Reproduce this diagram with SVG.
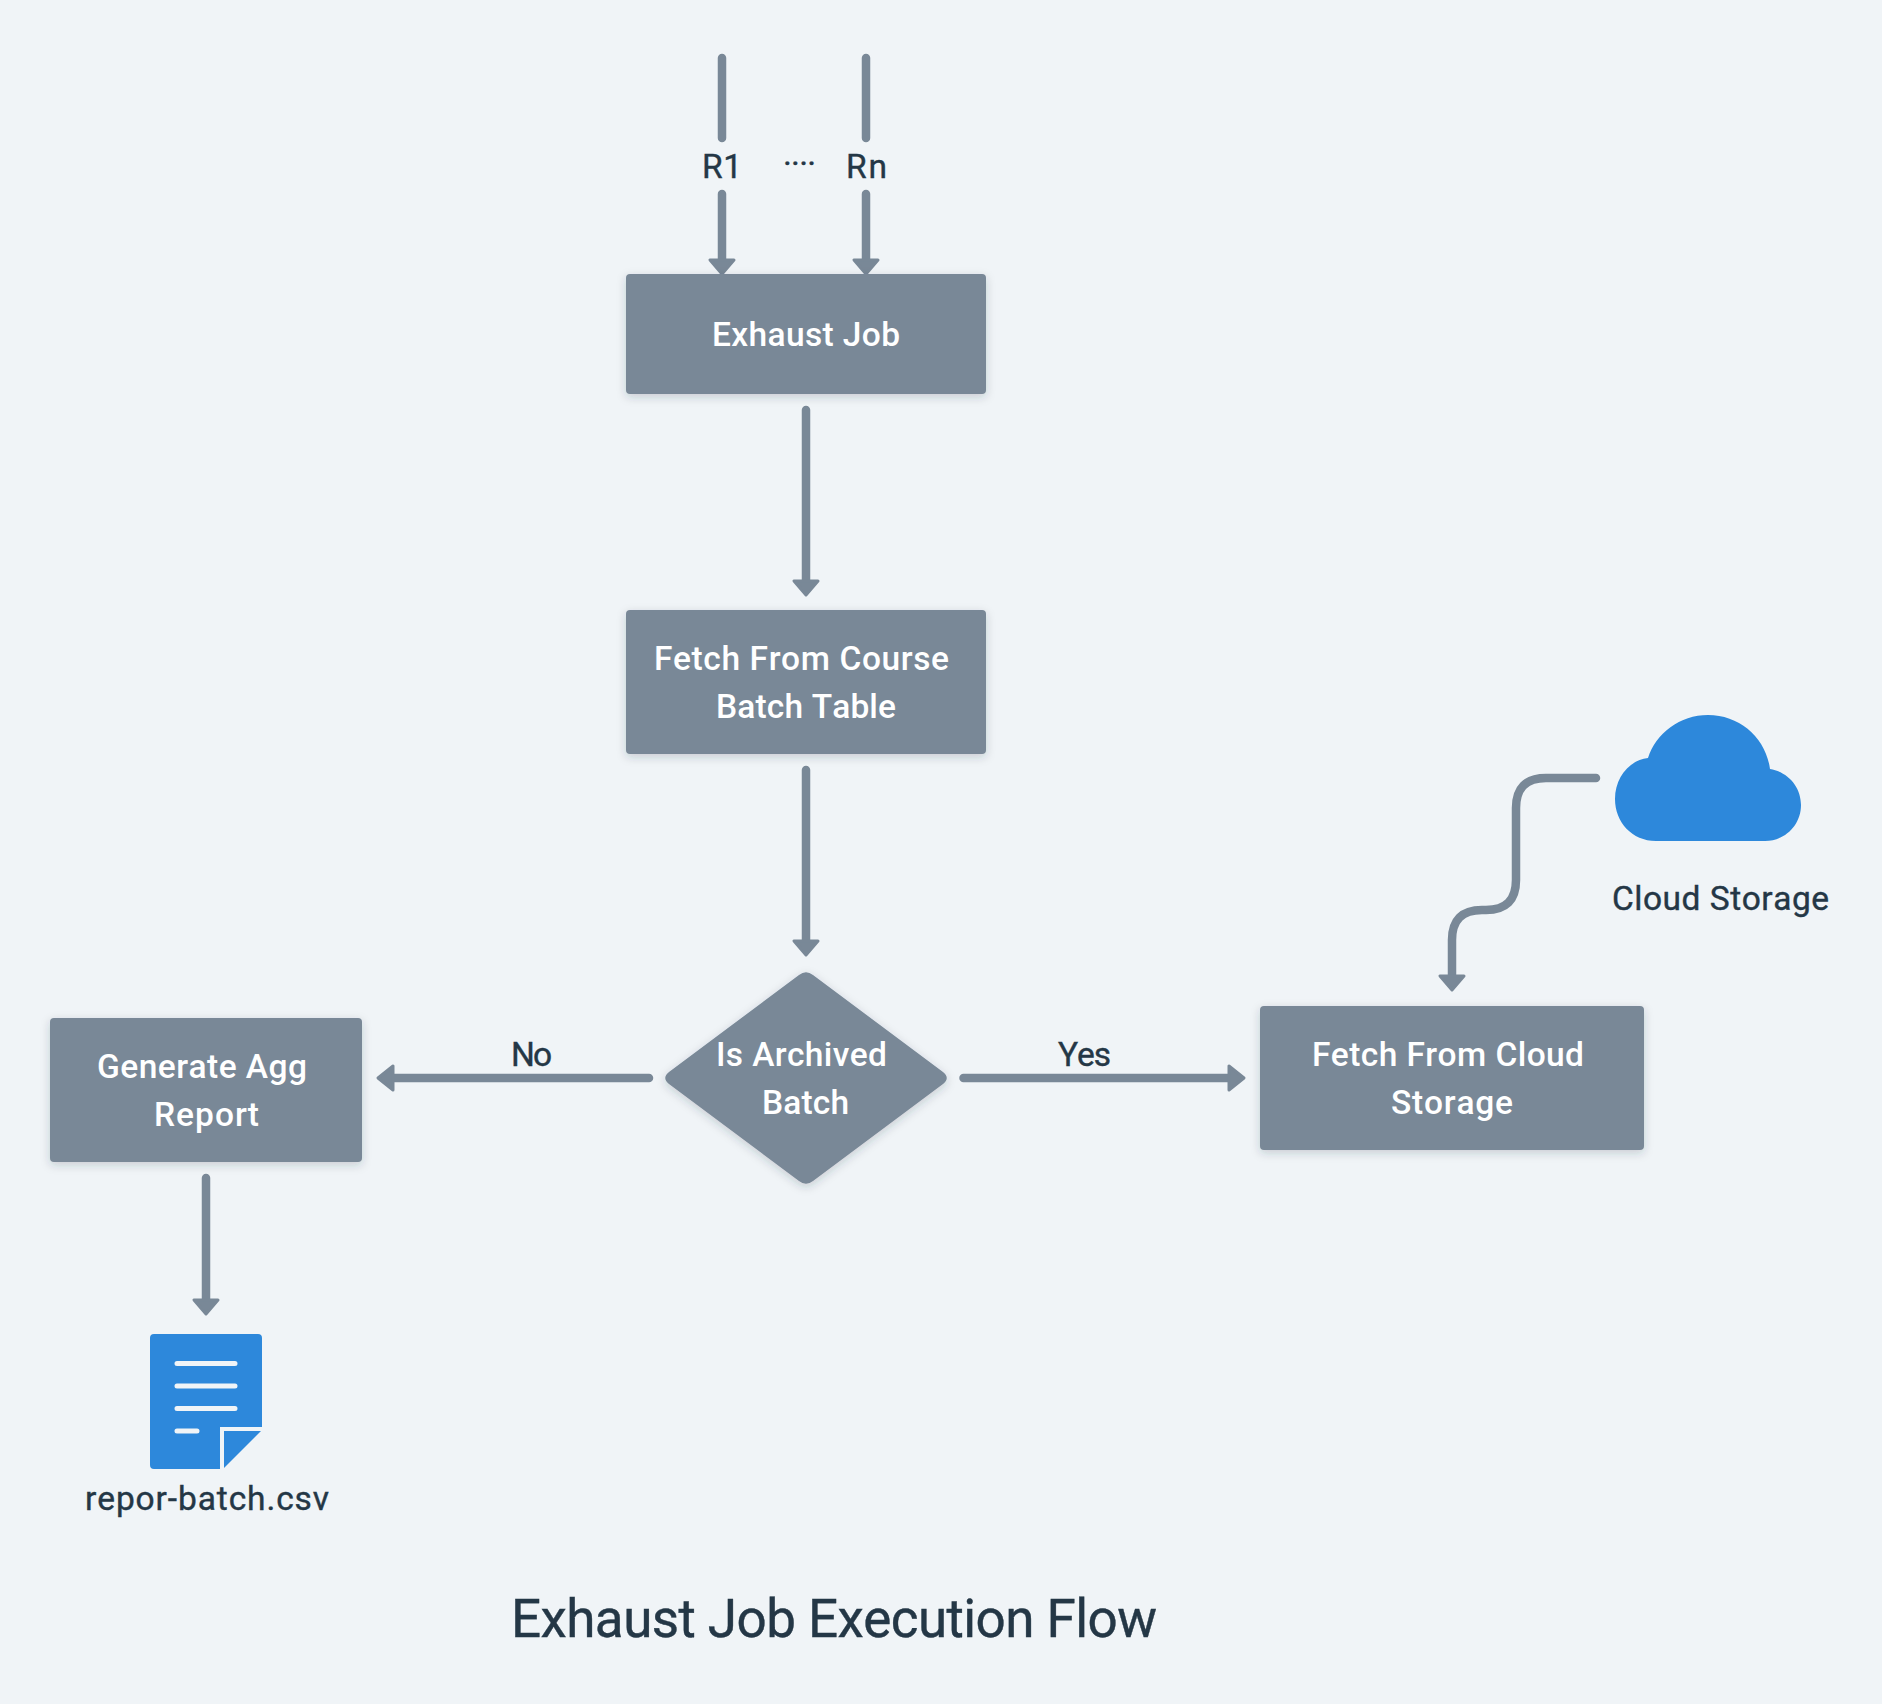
<svg xmlns="http://www.w3.org/2000/svg" width="1882" height="1704" viewBox="0 0 1882 1704">
<style>
text{font-family:"Roboto","Liberation Sans",sans-serif;font-size:33.5px;font-weight:400;fill:#243746;stroke:#243746;stroke-width:.4px;font-kerning:none}
.w{fill:#fff;stroke:none;font-weight:500}
.t{font-size:53px}
.box{fill:#798897;filter:url(#sh)}
.c{fill:none;stroke:#798897;stroke-width:8.5;stroke-linecap:round;stroke-linejoin:round}
.h{fill:#798897;stroke:#798897;stroke-width:3;stroke-linejoin:round}
.b{fill:#2d88db}
.l{stroke:#f0f4f7;stroke-width:5;stroke-linecap:round;fill:none}
</style>
<defs>
<filter id="sh" x="-10%" y="-15%" width="120%" height="135%"><feDropShadow dx="0" dy="3" stdDeviation="5" flood-color="#243746" flood-opacity="0.2"/></filter>
</defs>
<rect width="1882" height="1704" fill="#f0f4f7"/>
<g id="connectors">
<path class="c" d="M722 58V138"/>
<path class="c" d="M866 58V138"/>
<path class="c" d="M722 194V262"/>
<path class="h" d="M710 260H734L722 274Z"/>
<path class="c" d="M866 194V262"/>
<path class="h" d="M854 260H878L866 274Z"/>
<path class="c" d="M806 410V582"/>
<path class="h" d="M794 581H818L806 595Z"/>
<path class="c" d="M806 770V942"/>
<path class="h" d="M794 941H818L806 955Z"/>
<path class="c" d="M649 1078H392"/>
<path class="h" d="M393 1066V1090L378 1078Z"/>
<path class="c" d="M963.5 1078H1230"/>
<path class="h" d="M1229 1066V1090L1244 1078Z"/>
<path class="c" d="M206 1178V1302"/>
<path class="h" d="M194 1300H218L206 1314Z"/>
<path class="c" d="M1596 778H1546Q1516 778 1516 808V880Q1516 910 1486 910H1482Q1452 910 1452 940V978"/>
<path class="h" d="M1440 976H1464L1452 990Z"/>
</g>
<g id="r1"><text x="702" y="178" textLength="40">R1</text></g>
<g id="dots"><text x="783" y="175" textLength="33">····</text></g>
<g id="rn"><text x="846" y="178" textLength="41">Rn</text></g>
<g id="exhaust-job"><rect class="box" x="626" y="274" width="360" height="120" rx="4"/><text class="w" x="712" y="346" textLength="188">Exhaust Job</text></g>
<g id="fetch-course"><rect class="box" x="626" y="610" width="360" height="144" rx="4"/><text class="w" x="654" y="670" textLength="295">Fetch From Course</text><text class="w" x="716" y="718" textLength="180">Batch Table</text></g>
<g id="archived"><path class="box" d="M799 975Q806 969.500 813 975L943 1072Q950.500 1078 943 1084L813 1181Q806 1186.500 799 1181L669 1084Q661.500 1078 669 1072Z"/><text class="w" x="716" y="1066" textLength="171">Is Archived</text><text class="w" x="762" y="1114" textLength="87">Batch</text></g>
<g id="generate"><rect class="box" x="50" y="1018" width="312" height="144" rx="4"/><text class="w" x="97" y="1078" textLength="210">Generate Agg</text><text class="w" x="154" y="1126" textLength="105">Report</text></g>
<g id="fetch-cloud"><rect class="box" x="1260" y="1006" width="384" height="144" rx="4"/><text class="w" x="1312" y="1066" textLength="272">Fetch From Cloud</text><text class="w" x="1391" y="1114" textLength="122">Storage</text></g>
<g id="no"><text x="511" y="1066" textLength="41">No</text></g>
<g id="yes"><text x="1058" y="1066" textLength="53">Yes</text></g>
<g id="cloud"><path class="b" d="M1656 841C1632 841 1615 822 1615 799C1615 778 1629 760 1648 758C1656 733 1680 715 1708 715C1740 715 1766 738 1770 769C1788 772 1801 787 1801 805C1801 825 1785 841 1765 841Z"/><text x="1612" y="910" textLength="217">Cloud Storage</text></g>
<g id="report"><path class="b" d="M154 1334H258Q262 1334 262 1338V1427H220V1469H154Q150 1469 150 1465V1338Q150 1334 154 1334Z"/><path class="b" d="M224 1431H261L224 1468Z"/><path class="l" d="M177 1363.5H235M177 1386H235M177 1408.5H235M177 1431H197"/><text x="85" y="1510" textLength="244">repor-batch.csv</text></g>
<g id="title"><text class="t" x="511" y="1637" textLength="646">Exhaust Job Execution Flow</text></g>
</svg>
